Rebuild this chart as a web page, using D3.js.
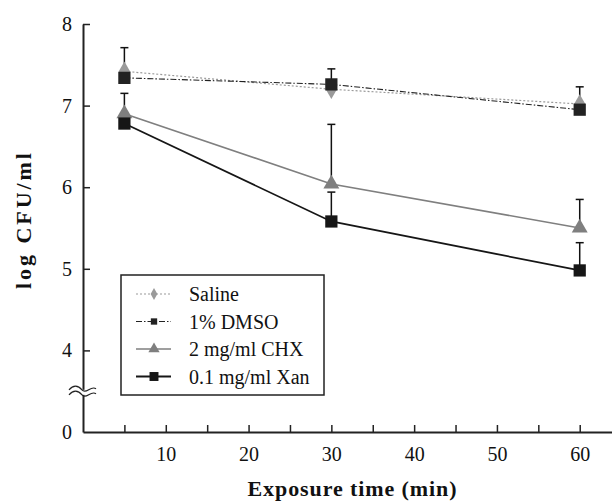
<!DOCTYPE html>
<html>
<head>
<meta charset="utf-8">
<script src="https://cdn.jsdelivr.net/npm/d3@7"></script>
<style>
  body { margin: 0; background: #fff; }
  svg text { font-family: "Liberation Serif", "Times New Roman", Times, serif; fill: #111; }
</style>
</head>
<body>
<svg></svg>
<script>
// data
let times = [5, 30, 60];
let salineMean = [7.42, 7.20, 7.02];
let dmsoMean = [7.34, 7.26, 6.95];
let dmsoSd = [0.37, 0.19, 0.28];
let chxMean = [6.90, 6.04, 5.50];
let chxSd = [0.25, 0.73, 0.35];
let xanMean = [6.78, 5.58, 4.98];
let xanSd = [0, 0.36, 0.34];
let xTicks = [10, 20, 30, 40, 50, 60];
let xMinorTicks = [5, 10, 15, 20, 25, 30, 35, 40, 45, 50, 55, 60];
let yTicks = [4, 5, 6, 7, 8];
let legendLabels = ['Saline', '1% DMSO', '2 mg/ml CHX', '0.1 mg/ml Xan'];

// configuration of svg/plot area
let config = { 'svg': {}, 'plot': {} };
config.svg.width = 612;
config.svg.height = 504;
config.plot.x = 83;
config.plot.y = 24;
config.plot.width = 529;
config.plot.height = 408;

let svg = d3.select('body').select('svg');
svg.attr('width', config.svg.width);
svg.attr('height', config.svg.height);

// y value 3 is drawn as the broken "0"
let x = d3.scaleLinear().domain([0, 63.9]).range([0, config.plot.width]);
let y = d3.scaleLinear().domain([3, 8]).range([config.plot.height, 0]);

let plot = svg.append('g').attr('transform', translate(config.plot.x, config.plot.y));

// axes
let gx = plot.append('g').attr('transform', translate(0, config.plot.height))
  .call(d3.axisBottom(x).tickValues(xMinorTicks).tickSizeInner(-7).tickSizeOuter(0).tickFormat(''));
let gxLab = plot.append('g').attr('transform', translate(0, config.plot.height))
  .call(d3.axisBottom(x).tickValues(xTicks).tickSize(0).tickPadding(15));
gxLab.select('.domain').remove();

let gy = plot.append('g')
  .call(d3.axisLeft(y).tickValues(yTicks).tickSizeInner(-7).tickSizeOuter(0).tickPadding(11).tickFormat(d3.format('d')));
let gy0 = plot.append('g')
  .call(d3.axisLeft(y).tickValues([3]).tickSize(0).tickPadding(11).tickFormat(() => '0'));
gy0.select('.domain').remove();

svg.selectAll('g').attr('font-family', null);
svg.selectAll('.domain').attr('stroke', '#222').attr('stroke-width', 2);
svg.selectAll('.tick line').attr('stroke', '#222').attr('stroke-width', 1.5);
svg.selectAll('.tick text').attr('font-size', 20).attr('fill', '#111');
gxLab.selectAll('.tick text').attr('dy', '0.71em');

// axis break
let bk = plot.append('g').attr('transform', translate(0, y(3.48)));
bk.append('rect').attr('x', -3).attr('y', -3).attr('width', 6).attr('height', 5).attr('fill', '#fff');
let wave = 'M-14,0 C-10,-5 -5,-5 -1,0 C3,5 8,-5 13,-1';
bk.append('path').attr('d', wave).attr('transform', translate(0, -3))
  .attr('fill', 'none').attr('stroke', '#222').attr('stroke-width', 1.2);
bk.append('path').attr('d', wave).attr('transform', translate(0, 2))
  .attr('fill', 'none').attr('stroke', '#222').attr('stroke-width', 1.2);

// axis titles
svg.append('text').attr('x', 352).attr('y', 496).attr('text-anchor', 'middle')
  .attr('font-size', 22).attr('font-weight', 'bold')
  .attr('textLength', 209).attr('lengthAdjust', 'spacing').text('Exposure time (min)');
svg.append('text').attr('transform', 'translate(31,221) rotate(-90)').attr('text-anchor', 'middle')
  .attr('font-size', 22).attr('font-weight', 'bold')
  .attr('textLength', 136).attr('lengthAdjust', 'spacing').text('log CFU/ml');

let series = [
  { name: legendLabels[0], mean: salineMean, sd: null, color: '#9a9a9a', width: 1.2, dash: '2,2', shape: d3.symbolDiamond, size: 110, lsize: 40 },
  { name: legendLabels[1], mean: dmsoMean, sd: dmsoSd, color: '#222', width: 1.1, dash: '6,2,1.5,2', shape: d3.symbolSquare, size: 150, lsize: 40 },
  { name: legendLabels[2], mean: chxMean, sd: chxSd, color: '#7f7f7f', width: 1.6, dash: null, shape: d3.symbolTriangle, size: 110, lsize: 55 },
  { name: legendLabels[3], mean: xanMean, sd: xanSd, color: '#161616', width: 1.8, dash: null, shape: d3.symbolSquare, size: 150, lsize: 80 }
];

// error bars (upper only)
series.forEach(function(s) {
  if (!s.sd) return;
  times.forEach(function(t, i) {
    if (s.sd[i] <= 0) return;
    let top = y(s.mean[i] + s.sd[i]);
    plot.append('line').attr('x1', x(t)).attr('x2', x(t))
      .attr('y1', y(s.mean[i])).attr('y2', top).attr('stroke', '#111').attr('stroke-width', 1.5);
    plot.append('line').attr('x1', x(t) - 4).attr('x2', x(t) + 4)
      .attr('y1', top).attr('y2', top).attr('stroke', '#111').attr('stroke-width', 1.5);
  });
});

// lines
let line = d3.line().x((d, i) => x(times[i])).y(d => y(d));
series.forEach(function(s) {
  plot.append('path').datum(s.mean)
    .attr('fill', 'none').attr('stroke', s.color).attr('stroke-width', s.width)
    .attr('stroke-dasharray', s.dash)
    .attr('d', line);
});

// markers
series.forEach(function(s) {
  plot.append('g').selectAll('path').data(s.mean).enter().append('path')
    .attr('transform', (d, i) => translate(x(times[i]), y(d)))
    .attr('d', d3.symbol().type(s.shape).size(s.size))
    .attr('fill', s.color);
});

// legend
let lg = svg.append('g').attr('transform', translate(121, 275));
lg.append('rect').attr('width', 203).attr('height', 120)
  .attr('fill', '#fff').attr('stroke', '#222').attr('stroke-width', 1.5);
series.forEach(function(s, i) {
  let ly = 19 + i * 27.5;
  lg.append('line').attr('x1', 15).attr('x2', 50).attr('y1', ly).attr('y2', ly)
    .attr('stroke', s.color).attr('stroke-width', s.width).attr('stroke-dasharray', s.dash);
  lg.append('path').attr('transform', translate(33, ly))
    .attr('d', d3.symbol().type(s.shape).size(s.lsize)).attr('fill', s.color);
  lg.append('text').attr('x', 68).attr('y', ly).attr('dy', '0.35em')
    .attr('font-size', 20).text(s.name);
});

function translate(x, y) {
  return 'translate(' + x + ',' + y + ')';
}
</script>
</body>
</html>
